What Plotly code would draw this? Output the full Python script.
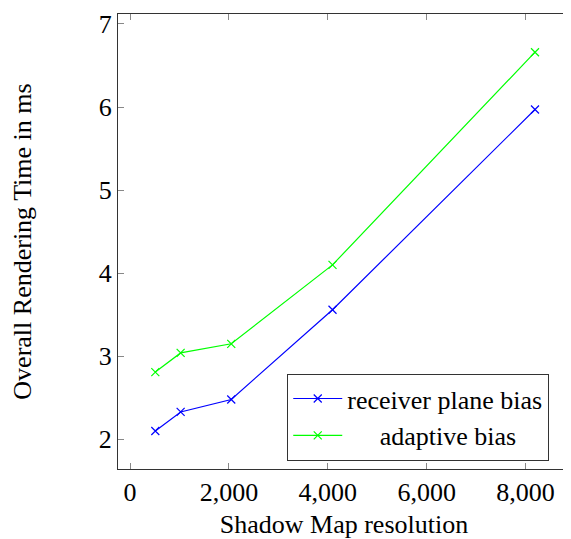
import plotly.graph_objects as go

resolution = [512, 1024, 2048, 4096, 8192]
receiver_plane_bias = [2.10, 2.33, 2.48, 3.56, 5.97]
adaptive_bias = [2.81, 3.04, 3.15, 4.10, 6.66]

series_names = ["receiver plane bias", "adaptive bias"]

x_ticks = [0, 2000, 4000, 6000, 8000]
y_ticks = [2, 3, 4, 5, 6, 7]

font_family = "Liberation Serif, Times New Roman, serif"
NB = "\u00a0"

fig = go.Figure()
fig.add_trace(go.Scatter(
    x=resolution, y=receiver_plane_bias, mode="lines+markers",
    name=series_names[0],
    line=dict(color="#0000ff", width=1.2),
    marker=dict(symbol="x-thin", size=8, line=dict(color="#0000ff", width=1.2)),
))
fig.add_trace(go.Scatter(
    x=resolution, y=adaptive_bias, mode="lines+markers",
    name=NB * 5 + series_names[1],
    line=dict(color="#00ff00", width=1.2),
    marker=dict(symbol="x-thin", size=8, line=dict(color="#00ff00", width=1.2)),
))

axis_common = dict(
    showgrid=False, zeroline=False, showline=True, linecolor="#333333", linewidth=1.2,
    mirror="ticks", ticks="inside", ticklen=6, tickcolor="#888888", tickwidth=1,
    tickfont=dict(family=font_family, size=26, color="black"),
)

# page body has an 8px margin, so the figure is sized to fit the window
fig.update_layout(
    width=563, height=531,
    margin=dict(l=110, r=1, t=6, b=70),
    paper_bgcolor="white", plot_bgcolor="white",
    font=dict(family=font_family, size=26, color="black"),
    showlegend=True,
    legend=dict(
        x=0.374, y=0.209, xanchor="left", yanchor="top",
        bordercolor="#333333", borderwidth=1.2, bgcolor="white",
        font=dict(family=font_family, size=26, color="black"),
        itemwidth=49, tracegroupgap=0,
    ),
    xaxis=dict(
        range=[-243, 8900], tickvals=x_ticks, tickformat=",d",
        title=dict(text="Shadow Map resolution", font=dict(family=font_family, size=26), standoff=14),
        **axis_common,
    ),
    yaxis=dict(
        range=[1.643, 7.12], tickvals=y_ticks,
        title=dict(text="Overall Rendering Time in ms", font=dict(family=font_family, size=26), standoff=60),
        **axis_common,
    ),
)

fig.write_html("out.html")
